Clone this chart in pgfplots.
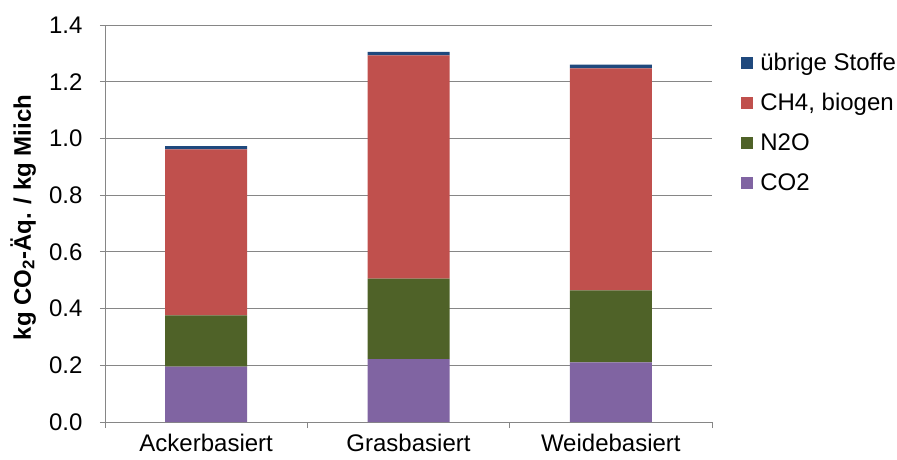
\documentclass[border=0pt]{standalone}
\usepackage{fontspec}
\setmainfont{Liberation Sans}
\usepackage{pgfplots}
\pgfplotsset{compat=1.18}
\definecolor{cco}{HTML}{8064A2}
\definecolor{cn}{HTML}{4F6228}
\definecolor{cch}{HTML}{C0504D}
\definecolor{cub}{HTML}{1F497D}
\definecolor{gridc}{HTML}{868686}
\newcommand\f{\fontsize{24}{28}\selectfont}
\pgfplotsset{mylegimg/.style={legend image code/.code={\fill[##1] (0pt,-3.5pt) rectangle (12pt,8.5pt);}}}
\begin{document}
\begin{tikzpicture}
\begin{axis}[
  scale only axis, width=607pt, height=397pt,
  ybar stacked, bar width=82pt,
  xmin=-0.5, xmax=2.5, ymin=0, ymax=1.4,
  xtick={0,1,2}, xticklabels={Ackerbasiert,Grasbasiert,Weidebasiert},
  minor xtick={-0.5,0.5,1.5,2.5},
  ytick={0,0.2,0.4,0.6,0.8,1.0,1.2,1.4},
  yticklabel style={xshift=-14pt, /pgf/number format/.cd, fixed, fixed zerofill, precision=1, assume math mode=true},
  xticklabel style={yshift=-4pt},
  tick label style={font=\f},
  tick align=outside,
  major x tick style={draw=none},
  minor x tick style={draw=gridc, line width=0.8pt},
  minor tick length=6pt,
  major tick length=5pt,
  ytick style={draw=gridc, line width=0.8pt},
  ymajorgrids, grid style={gridc, line width=0.8pt},
  axis lines*=left, axis line style={-, draw=gridc, line width=0.8pt},
  ylabel={\bfseries kg CO\textsubscript{2}-Äq. / kg Miich},
  ylabel style={font=\f, at={(axis description cs:-0.135,0.515)}, anchor=center},
  reverse legend,
  legend style={at={(1.048,0.926)}, anchor=north west, draw=none, fill=none, inner sep=0pt, row sep=19pt, font=\f,
    nodes={inner xsep=7pt, inner ysep=0pt, text height=16pt, text depth=5pt}},
  legend cell align=left,
]
\addplot[fill=cco, draw=none, mylegimg] coordinates {(0,0.195) (1,0.222) (2,0.210)};
\addplot[fill=cn, draw=none, mylegimg] coordinates {(0,0.181) (1,0.284) (2,0.254)};
\addplot[fill=cch, draw=none, mylegimg] coordinates {(0,0.585) (1,0.787) (2,0.783)};
\addplot[fill=cub, draw=none, mylegimg] coordinates {(0,0.012) (1,0.012) (2,0.013)};
\legend{CO2,N2O,{CH4, biogen},übrige Stoffe}
\end{axis}
\pgfresetboundingbox
\path (-105pt,-37pt) rectangle (792pt,422pt);
\end{tikzpicture}
\end{document}
